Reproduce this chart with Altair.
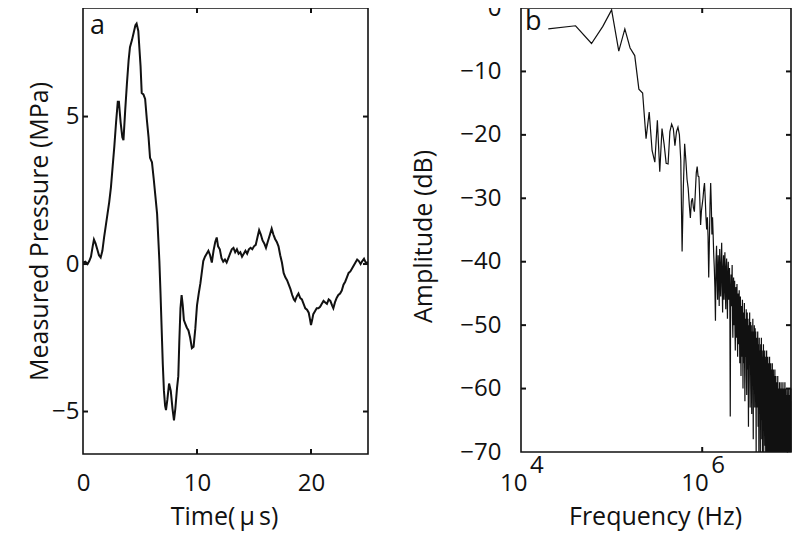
import altair as alt
import pandas as pd

# ---------------- data ----------------
time_us = [0.0, 0.2, 0.4, 0.55, 0.7, 0.85, 0.96, 1.1, 1.25, 1.4, 1.55, 1.7, 1.85, 2.0, 2.15, 2.3,
           2.45, 2.6, 2.75, 2.9, 3.05, 3.15, 3.3, 3.45, 3.55, 3.7, 3.85, 4.0, 4.12, 4.3, 4.45, 4.6,
           4.7, 4.85, 4.95, 5.05, 5.15, 5.3, 5.45, 5.6, 5.75, 5.88, 6.05, 6.2, 6.35, 6.5, 6.6, 6.7,
           6.8, 6.9, 7.0, 7.1, 7.2, 7.28, 7.4, 7.55, 7.7, 7.85, 7.98, 8.1, 8.25, 8.36, 8.45, 8.55,
           8.65, 8.75, 8.85, 8.95, 9.1, 9.25, 9.4, 9.55, 9.7, 9.85, 10.0, 10.15, 10.3, 10.45, 10.55,
           10.7, 10.85, 11.0, 11.15, 11.3, 11.45, 11.6, 11.73, 11.85, 12.0, 12.15, 12.3, 12.45, 12.6,
           12.75, 12.9, 13.05, 13.2, 13.35, 13.5, 13.65, 13.8, 13.95, 14.1, 14.25, 14.4, 14.55, 14.7,
           14.85, 15.0, 15.15, 15.3, 15.45, 15.6, 15.75, 15.9, 16.05, 16.2, 16.4, 16.55, 16.7, 16.85,
           17.0, 17.15, 17.3, 17.45, 17.6, 17.75, 17.9, 18.05, 18.2, 18.35, 18.5, 18.6, 18.75, 18.9,
           19.05, 19.2, 19.35, 19.5, 19.65, 19.8, 19.9, 20.0, 20.1, 20.2, 20.35, 20.5, 20.65, 20.8,
           20.95, 21.1, 21.25, 21.4, 21.55, 21.7, 21.85, 21.96, 22.1, 22.25, 22.4, 22.55, 22.7, 22.85,
           23.0, 23.15, 23.3, 23.45, 23.6, 23.75, 23.9, 24.05, 24.2, 24.35, 24.5, 24.65, 24.8, 25.0]
pressure_mpa = [0.05, 0.08, 0.0, 0.1, 0.25, 0.6, 0.83, 0.7, 0.5, 0.3, 0.22, 0.45, 0.9, 1.3, 1.7, 2.1,
                2.6, 3.3, 4.0, 4.8, 5.5, 5.5, 4.8, 4.3, 4.2, 5.2, 6.1, 6.9, 7.35, 7.6, 7.85, 8.1,
                8.15, 7.9, 7.3, 6.7, 5.8, 5.75, 5.6, 4.9, 4.3, 3.6, 3.45, 2.9, 2.3, 1.7, 0.9, 0.1,
                -1.0, -2.2, -3.4, -4.3, -4.8, -4.95, -4.6, -4.05, -4.3, -4.9, -5.3, -4.9, -4.2, -3.8, -2.6, -1.5,
                -1.05, -1.4, -1.9, -2.0, -2.15, -2.25, -2.5, -2.85, -2.8, -2.2, -1.4, -1.0, -0.65, -0.2, 0.1,
                0.25, 0.35, 0.45, 0.3, 0.05, 0.45, 0.75, 0.9, 0.6, 0.5, 0.2, 0.08, 0.15, 0.05,
                0.2, 0.35, 0.5, 0.55, 0.4, 0.5, 0.35, 0.4, 0.25, 0.35, 0.45, 0.35, 0.5, 0.55,
                0.5, 0.6, 0.65, 0.9, 1.15, 1.0, 0.8, 0.7, 0.55, 0.75, 1.0, 1.2, 1.0, 0.85,
                0.75, 0.6, 0.3, 0.05, -0.3, -0.45, -0.55, -0.7, -0.85, -1.05, -1.2, -1.25, -1.1, -1.0,
                -1.15, -1.2, -1.35, -1.5, -1.55, -1.65, -1.85, -2.07, -1.9, -1.7, -1.6, -1.5, -1.5, -1.45,
                -1.35, -1.25, -1.3, -1.35, -1.2, -1.25, -1.4, -1.5, -1.3, -1.15, -1.05, -1.0, -0.9, -0.7,
                -0.6, -0.45, -0.3, -0.25, -0.15, -0.05, 0.05, 0.15, 0.1, 0.0, 0.1, 0.18, 0.05, 0.05]

FREQ_STEP_HZ = 20000  # spectral bin spacing
amplitude_db = [
    -3.3, -2.8, -5.6, -2.9, -0.3, -6.8, -3.3, -6.3, -7.5, -12.8,
    -13.4, -20.6, -16.4, -22.5, -24.3, -17.7, -25.8, -19.0, -21.5, -24.5,
    -24.6, -19.5, -18.3, -19.0, -21.7, -19.5, -18.8, -20.0, -24.0, -38.4,
    -28.0, -21.4, -24.0, -27.0, -28.4, -31.0, -33.1, -30.5, -30.0, -31.5,
    -32.1, -29.0, -26.0, -25.0, -26.5, -26.6, -30.0, -34.2, -32.0, -31.0,
    -30.0, -28.5, -27.6, -30.0, -33.0, -34.9, -33.0, -36.0, -42.5, -36.8,
    -31.0, -27.6, -31.0, -35.7, -33.0, -35.7,
    -38.9, -41, -44, -49.3, -40, -37.5, -43, -46, -39, -41.5, -47, -38, -42, -45.5, -40, -37, -44,
    -48, -41, -39, -46, -43, -38.5, -44.5, -47.5, -41, -39.5, -45, -49, -42, -40, -46, -43.5, -41,
    -48, -64.4, -45, -42, -47, -44, -40.5, -49, -52, -44, -42.5, -50, -47, -43, -51, -54, -45, -44,
    -52, -48, -43.5, -50.5, -55, -46, -45, -53, -49, -44.5, -51, -56,
    -47, -45.5, -53, -58, -49, -47, -55, -51, -46, -54,
    -60, -50, -48, -56, -52, -46.5, -57, -62, -51, -49,
    -55, -53, -47.5, -58, -61, -50, -48, -57, -54, -49,
    -59, -66, -52, -50, -56, -53, -48, -58, -63, -51,
    -49.5, -57, -55, -50, -60, -64, -52, -51, -58, -54,
    -49, -61, -68, -53, -51, -57, -55, -50, -59, -63,
    -52, -50.5, -58, -56, -51, -62, -70, -54, -52, -59,
    -52, -56, -63, -54, -51, -60, -66, -55, -53, -61,
    -70, -57, -52, -59, -64, -55, -54, -62, -72, -58,
    -53, -57, -65, -56, -52, -61, -68, -57, -55, -63,
    -71, -58, -54, -60, -66, -56, -53, -62, -74, -59,
    -55, -58, -64, -57, -54, -63, -69, -58, -56, -61,
    -72, -59, -55, -60, -67, -57, -54, -64, -75, -60,
    -56, -59, -66, -58, -55, -62, -70, -59, -57, -63,
    -73, -60, -56, -61, -68, -58, -55, -65, -76, -61,
    -57, -60, -66, -59, -56, -63, -71, -60, -58, -64,
    -74, -61, -57, -62, -69, -59, -56, -66, -77, -62,
    -58, -61, -67, -60, -57, -64, -72, -61, -59, -65,
    -75, -62, -58, -63, -70, -60, -57, -66, -78, -63,
    -59, -62, -68, -61, -58, -65, -73, -62, -60, -66,
    -60, -64, -71, -62, -59, -67, -74, -63, -61, -69,
    -58, -65, -72, -61, -60, -68, -76, -64, -62, -66,
    -73, -60, -63, -70, -62, -59, -66, -75, -63, -61,
    -68, -72, -61, -64, -78, -62, -60, -67, -71, -63,
    -59, -65, -74, -62, -61, -69, -77, -64, -60, -66,
    -72, -61, -63, -70, -60, -64, -75, -62, -59, -68,
    -73, -63, -61, -67, -79, -62, -60, -65, -71, -64,
    -60, -66, -74, -63, -61, -69, -76, -62, -59, -67,
    -72, -61, -64, -70, -62, -60, -68, -77, -63, -61,
    -66, -73, -62, -65, -80, -63, -61, -67, -72, -64,
    -60, -66, -75, -63, -62, -70, -78, -64, -61, -68,
    -73, -62, -64, -71, -61, -60, -67, -76, -63, -62,
    -69, -74, -62, -65, -79, -63, -61, -66, -72, -64,
    -61, -67, -75, -62, -60, -69, -77, -63, -62, -68,
    -73, -61, -64, -70, -62, -60, -66, -78, -64, -62,
]
freq_hz = [FREQ_STEP_HZ * (i + 1) for i in range(len(amplitude_db))]

a_x_ticks = [10, 20]
a_y_ticks = [-5, 0, 5]
b_x_ticks = [1e6]
b_y_ticks = [-10, -20, -30, -40, -50, -60]
a_x_labels = [0, 10, 20]
b_y_labels = [0, -10, -20, -30, -40, -50, -60, -70]
b_x_labels = [1e4, 1e6]
b_x_exponents = ["4", "6"]

# ---------------- layout / style ----------------
FONT = "Open Sans"
FS = 24      # tick labels
TFS = 25     # axis titles
INK = "#111111"
W, H = 784, 524
A_X = [75, 360]; A_Y = [446, 0]
B_X = [513, 783]; B_Y = [444, 0]
A_XDOM = [0, 25]; A_YDOM = [-6.44, 8.68]
B_XDOM = [1e4, 9.55e6]; B_YDOM = [-70, 0]
TICK = 5
TITLE_Y = 508
LABEL_TOP = 463   # top of the x tick-label boxes

ax_s = alt.Scale(domain=A_XDOM, range=A_X, nice=False, zero=False)
ay_s = alt.Scale(domain=A_YDOM, range=A_Y, nice=False, zero=False)
bx_s = alt.Scale(type="log", domain=B_XDOM, range=B_X, nice=False, clamp=True)
by_s = alt.Scale(domain=B_YDOM, range=B_Y, nice=False, zero=False, clamp=True)

common_axis = dict(domain=False, ticks=False, tickSize=0, grid=False, labelFont=FONT,
                   labelFontSize=FS, labelColor=INK, titleFont=FONT, titleFontSize=TFS,
                   titleFontWeight="normal", titleColor=INK, labelFlush=False,
                   labelOverlap=False, labelBound=False, titleBaseline="middle")

ax_axis = alt.Axis(values=a_x_labels, title="Time(\u2009\u03bc\u2009s)", orient="bottom",
                   offset=-(H - A_Y[0]), labelPadding=LABEL_TOP - A_Y[0], titleX=216,
                   titleY=TITLE_Y - A_Y[0], **common_axis)
ay_axis = alt.Axis(values=a_y_ticks, title="Measured Pressure (MPa)", orient="left",
                   offset=-A_X[0], labelPadding=4, titleX=-44, titleY=223, titleAngle=-90,
                   **common_axis)
bx_axis = alt.Axis(values=b_x_labels, title="Frequency (Hz)", orient="bottom",
                   offset=-(H - B_Y[0]), labelPadding=LABEL_TOP - B_Y[0], labelExpr="'10'",
                   labelAlign="right", labelOffset=6, titleX=647, titleY=TITLE_Y - B_Y[0],
                   **common_axis)
by_axis = alt.Axis(values=b_y_labels, title="Amplitude (dB)", orient="left",
                   offset=-B_X[0], labelPadding=20, titleX=-98, titleY=228, titleAngle=-90,
                   **common_axis)

df_a = pd.DataFrame({"t": time_us, "p": pressure_mpa})
df_b = pd.DataFrame({"f": freq_hz, "db": amplitude_db})

# ---- panel a ----
a_line = alt.Chart(df_a).mark_line(color=INK, strokeWidth=2).encode(
    x=alt.X("t:Q", scale=ax_s, axis=ax_axis),
    y=alt.Y("p:Q", scale=ay_s, axis=ay_axis),
)
a_frame = alt.Chart(pd.DataFrame({"x0": [A_XDOM[0]], "x1": [A_XDOM[1]],
                                  "y0": [A_YDOM[0]], "y1": [A_YDOM[1]]})).mark_rect(
    fill="transparent", stroke=INK, strokeWidth=1.6).encode(
    x=alt.X("x0:Q", scale=ax_s, axis=None), x2="x1:Q",
    y=alt.Y("y0:Q", scale=ay_s, axis=None), y2="y1:Q")
df_axt = pd.DataFrame({"v": a_x_ticks})
df_ayt = pd.DataFrame({"v": a_y_ticks})
a_xt_bot = alt.Chart(df_axt).mark_rule(color=INK, strokeWidth=2).encode(
    x=alt.X("v:Q", scale=ax_s, axis=None), y=alt.value(A_Y[0]), y2=alt.value(A_Y[0] - TICK))
a_xt_top = alt.Chart(df_axt).mark_rule(color=INK, strokeWidth=2).encode(
    x=alt.X("v:Q", scale=ax_s, axis=None), y=alt.value(A_Y[1]), y2=alt.value(A_Y[1] + TICK))
a_yt_l = alt.Chart(df_ayt).mark_rule(color=INK, strokeWidth=2).encode(
    y=alt.Y("v:Q", scale=ay_s, axis=None), x=alt.value(A_X[0]), x2=alt.value(A_X[0] + TICK))
a_yt_r = alt.Chart(df_ayt).mark_rule(color=INK, strokeWidth=2).encode(
    y=alt.Y("v:Q", scale=ay_s, axis=None), x=alt.value(A_X[1]), x2=alt.value(A_X[1] - TICK))
a_tag = alt.Chart(pd.DataFrame({"s": ["a"]})).mark_text(
    font=FONT, fontSize=27, color=INK, align="left", baseline="middle").encode(
    text="s:N", x=alt.value(A_X[0] + 7), y=alt.value(18))
panel_a = alt.layer(a_frame, a_line, a_xt_bot, a_xt_top, a_yt_l, a_yt_r, a_tag).resolve_axis(
    x="independent", y="independent")

# ---- panel b ----
b_line = alt.Chart(df_b).mark_line(color=INK, strokeWidth=1.2).encode(
    x=alt.X("f:Q", scale=bx_s, axis=bx_axis),
    y=alt.Y("db:Q", scale=by_s, axis=by_axis),
)
b_frame = alt.Chart(pd.DataFrame({"x0": [B_XDOM[0]], "x1": [B_XDOM[1]],
                                  "y0": [B_YDOM[0]], "y1": [B_YDOM[1]]})).mark_rect(
    fill="transparent", stroke=INK, strokeWidth=1.6).encode(
    x=alt.X("x0:Q", scale=bx_s, axis=None), x2="x1:Q",
    y=alt.Y("y0:Q", scale=by_s, axis=None), y2="y1:Q")
df_bxt = pd.DataFrame({"v": b_x_ticks})
df_byt = pd.DataFrame({"v": b_y_ticks})
b_xt_bot = alt.Chart(df_bxt).mark_rule(color=INK, strokeWidth=2).encode(
    x=alt.X("v:Q", scale=bx_s, axis=None), y=alt.value(B_Y[0]), y2=alt.value(B_Y[0] - TICK))
b_xt_top = alt.Chart(df_bxt).mark_rule(color=INK, strokeWidth=2).encode(
    x=alt.X("v:Q", scale=bx_s, axis=None), y=alt.value(B_Y[1]), y2=alt.value(B_Y[1] + TICK))
b_yt_l = alt.Chart(df_byt).mark_rule(color=INK, strokeWidth=2).encode(
    y=alt.Y("v:Q", scale=by_s, axis=None), x=alt.value(B_X[0]), x2=alt.value(B_X[0] + TICK))
b_yt_r = alt.Chart(df_byt).mark_rule(color=INK, strokeWidth=2).encode(
    y=alt.Y("v:Q", scale=by_s, axis=None), x=alt.value(B_X[1]), x2=alt.value(B_X[1] - TICK))
b_exp = alt.Chart(pd.DataFrame({"f": b_x_labels, "e": b_x_exponents})).mark_text(
    font=FONT, fontSize=FS, color=INK, align="left", baseline="middle", dx=9).encode(
    x=alt.X("f:Q", scale=bx_s, axis=None), y=alt.value(458), text="e:N")
b_tag = alt.Chart(pd.DataFrame({"s": ["b"]})).mark_text(
    font=FONT, fontSize=27, color=INK, align="left", baseline="middle").encode(
    text="s:N", x=alt.value(B_X[0] + 4), y=alt.value(14))
panel_b = alt.layer(b_frame, b_line, b_xt_bot, b_xt_top, b_yt_l, b_yt_r, b_exp, b_tag).resolve_axis(
    x="independent", y="independent")

chart = alt.layer(panel_a, panel_b).resolve_scale(
    x="independent", y="independent"
).resolve_axis(
    x="independent", y="independent"
).properties(
    width=W, height=H, padding=0, autosize=alt.AutoSizeParams(type="none"),
    background="white",
).configure_view(stroke=None)

chart.save("out.html", embed_options={"renderer": "svg", "actions": False})
